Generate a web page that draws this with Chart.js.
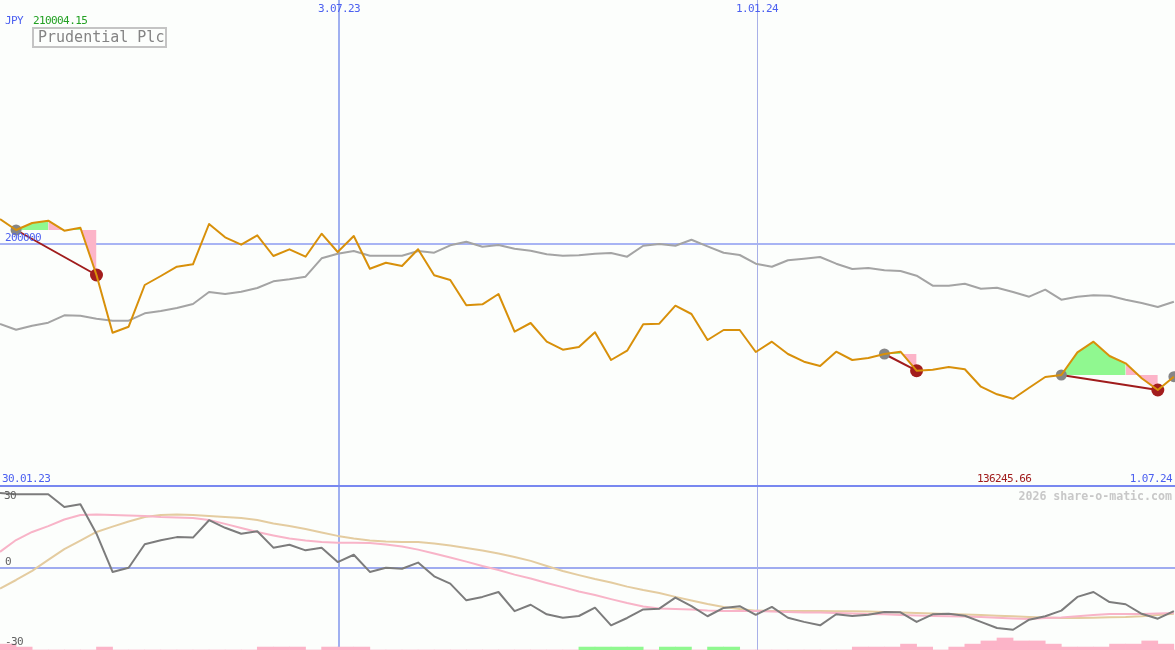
<!DOCTYPE html>
<html>
<head>
<meta charset="utf-8">
<script src="https://cdn.jsdelivr.net/npm/chart.js@4.4.0/dist/chart.umd.min.js"></script>
<style>
  body { margin: 0; background: #fcfefc; }
  #wrap { position: relative; width: 1175px; height: 650px; overflow: hidden; background: #fcfefc;
          font-family: "DejaVu Sans Mono", monospace; font-size: 11px; letter-spacing: -0.6px; }
  canvas { position: absolute; left: 0; }
  #top { top: 0; }
  #bot { top: 487px; }
  .t { position: absolute; white-space: pre; line-height: 11px; }
  .blue { color: #4c60f0; }
  #legend { position: absolute; left: 32px; top: 27px; width: 131px; height: 17px; border: 2px solid #c4c4c4;
            color: #848484; font-size: 15px; line-height: 17px; letter-spacing: 0; text-indent: 4px; }
  #brand { color: #c8c8c8; font-size: 11.6px; font-weight: bold; letter-spacing: 0; }
  .osc { color: #606060; }
</style>
</head>
<body>
<div id="wrap">
  <canvas id="top" width="1175" height="487"></canvas>
  <canvas id="bot" width="1175" height="163"></canvas>

  <div class="t blue" style="left:5px;top:15px">JPY</div>
  <div class="t" id="maxLabel" style="left:33px;top:15px;color:#22a022"></div>
  <div id="legend">Prudential Plc</div>
  <div class="t blue" id="refLabel" style="left:5px;top:232px"></div>
  <div class="t blue" id="startLabel" style="left:2px;top:473px"></div>
  <div class="t" id="minLabel" style="left:977px;top:473px;color:#a01c1c"></div>
  <div class="t blue" id="endLabel" style="right:3px;top:473px"></div>
  <div class="t" id="brand" style="right:3px;top:491px">2026 share-o-matic.com</div>
  <div class="t osc" style="left:4px;top:490px">30</div>
  <div class="t osc" style="left:5px;top:556px">0</div>
  <div class="t osc" style="left:5px;top:636px">-30</div>
</div>

<script>
// Wochenkurse in JPY (Prudential Plc) und Vergleichslinie
const price = [210004.15, 205544, 208419, 209363, 205256, 206489, 187064, 163367, 165831, 182957,
  186653, 190472, 191458, 208008, 202546, 199507, 203367, 194866, 197618, 194579,
  204025, 196509, 203080, 189651, 192115, 190760, 197618, 186940, 185010, 174620,
  175031, 179261, 163778, 167351, 159671, 156386, 157495, 163532, 152156, 155975,
  166817, 167064, 174456, 171047, 160369, 164476, 164476, 155441, 159671, 154620,
  151458, 149692, 155564, 152156, 152977, 154620, 155564, 147762, 148172, 149281,
  148337, 141191, 138070, 136245.66, 140780, 145174, 145996, 155318, 159671, 153799,
  150801, 144641, 139836, 145297];

const compare = [166940, 164600, 166242, 167474, 170513, 170349, 169117, 168295, 168295, 171335,
  172279, 173511, 175154, 180082, 179261, 180205, 181725, 184476, 185298, 186365,
  193922, 195811, 196920, 194990, 194990, 194990, 196920, 196222, 199261, 200739,
  198686, 199384, 197864, 197043, 195565, 194990, 195154, 195811, 196098, 194579,
  199096, 199795, 199096, 201560, 198850, 196222, 195277, 191704, 190472, 193101,
  193758, 194456, 191704, 189528, 189938, 188994, 188706, 186776, 182669, 182669,
  183491, 181437, 181848, 180082, 178152, 181027, 176920, 178152, 178727, 178563,
  176920, 175565, 173922, 176099];

// Oszillator unten
const osc = [30.4, 29.9, 29.9, 29.9, 24.7, 25.8, 13.8, -1.8, -0.1, 9.5,
  11.1, 12.4, 12.2, 19.3, 16.2, 13.8, 14.8, 8.1, 9.3, 7.0,
  8.1, 2.2, 5.2, -1.8, -0.1, -0.5, 2.0, -3.6, -6.6, -13.4,
  -12.0, -10.0, -17.8, -15.2, -19.1, -20.5, -19.8, -16.4, -23.6, -20.6,
  -17.1, -16.8, -12.3, -15.8, -19.9, -16.5, -15.8, -19.3, -16.1, -20.5,
  -22.2, -23.6, -19.1, -19.8, -19.3, -18.2, -18.3, -22.2, -19.1, -18.9,
  -19.7, -22.2, -24.7, -25.4, -21.3, -19.9, -17.6, -12.0, -10.0, -14.1,
  -15.0, -18.9, -20.9, -17.8];

const oscAvg = [6.4, 11.2, 14.5, 16.9, 19.6, 21.4, 21.6, 21.4, 21.2, 21.0,
  20.6, 20.4, 20.2, 19.4, 17.8, 16.1, 14.5, 13.1, 11.8, 11.0,
  10.4, 10.1, 10.1, 10.0, 9.4, 8.6, 7.3, 5.7, 4.1, 2.4,
  0.6, -1.0, -2.9, -4.5, -6.3, -8.0, -9.8, -11.2, -12.9, -14.5,
  -15.9, -16.7, -16.9, -17.1, -17.6, -17.8, -17.8, -17.8, -18.0, -18.2,
  -18.4, -18.4, -18.6, -18.8, -19.0, -19.1, -19.4, -19.6, -19.8, -19.9,
  -20.0, -20.2, -20.5, -20.8, -21.0, -20.6, -20.4, -19.9, -19.4, -19.0,
  -19.0, -19.0, -18.8, -18.6];

const oscSlow = [-8.6, -5.1, -1.4, 3.1, 7.5, 11.0, 14.5, 16.7, 18.8, 20.6,
  21.4, 21.6, 21.4, 21.0, 20.6, 20.2, 19.4, 18.0, 16.9, 15.7,
  14.3, 12.9, 11.8, 11.0, 10.6, 10.4, 10.4, 9.8, 9.0, 8.0,
  6.9, 5.7, 4.3, 2.7, 0.6, -1.4, -3.1, -4.7, -6.1, -7.8,
  -9.2, -10.4, -12.0, -13.5, -14.9, -16.1, -16.9, -17.6, -17.8, -17.8,
  -17.8, -17.8, -17.9, -17.9, -18.0, -18.2, -18.4, -18.6, -18.8, -19.0,
  -19.2, -19.4, -19.7, -19.9, -20.2, -20.4, -20.6, -20.6, -20.5, -20.3,
  -20.2, -19.9, -19.4, -18.9];

// Balken unten: positiv = grün, negativ = rosa
const hist = [-2.4, -1.2, 0, 0, 0, 0, -1.2, 0, 0, 0,
  0, 0, 0, 0, 0, 0, -1.2, -1.2, -1.2, 0,
  -1.2, -1.2, -1.2, 0, 0, 0, 0, 0, 0, 0,
  0, 0, 0, 0, 0, 0, 1.2, 1.2, 1.2, 1.2,
  0, 1.2, 1.2, 0, 1.2, 1.2, 0, 0, 0, 0,
  0, 0, 0, -1.2, -1.2, -1.2, -2.4, -1.2, 0, -1.2,
  -2.4, -3.7, -4.9, -3.7, -3.7, -2.4, -1.2, -1.2, -1.2, -2.4,
  -2.4, -3.7, -2.4, 0];

// Datumsmarken
const startLabel = '30.01.23';
const endLabel = '1.07.24';
const dateLabels = ['3.07.23', '1.01.24'];
const datePos = [21.08, 47.08];
const refPrice = 200000;

// Kauf/Verkauf
const buyIdx = [1, 55, 66, 73];
const sellIdx = [6, 57, 72];
const fillFrom = [1, 3, 4, 5, 55, 56, 66, 70];
const fillTo = [3, 4, 5, 6, 56, 57, 70, 72];
const fillEntry = [1, 1, 1, 1, 55, 55, 66, 66];
const fillGain = [true, false, true, false, true, false, true, false];

const xMax = 73.07;
const oscMin = -33.673, oscMax = 32.857;

const pts = arr => arr.map((v, i) => ({x: i, y: v}));
const at = (arr, ks) => ks.map(k => ({x: k, y: arr[k]}));

const fillSets = fillFrom.map((a, j) => ({
    data: price.slice(a, fillTo[j] + 1).map((v, i) => ({x: a + i, y: v})),
    borderWidth: 0,
    borderColor: 'rgba(0,0,0,0)',
    pointRadius: 0,
    backgroundColor: fillGain[j] ? '#90f890' : '#fcb4c8',
    fill: {value: price[fillEntry[j]]},
    order: 5
}));

const tradeSets = sellIdx.map((s, j) => ({
    data: at(price, [buyIdx[j], s]),
    borderColor: '#a01c1c',
    borderWidth: 2,
    pointRadius: 0,
    order: 2
}));

const topGuides = {
    id: 'topGuides',
    beforeDatasetsDraw(chart) {
        const {ctx, chartArea: a, scales: {x, y}} = chart;
        ctx.save();
        ctx.fillStyle = '#a8b4f4';
        ctx.fillRect(0, Math.round(y.getPixelForValue(refPrice)) - 1, a.right, 2);
        ctx.fillStyle = '#a0b0f0';
        ctx.fillRect(Math.round(x.getPixelForValue(datePos[0])) - 1, 0, 2, a.bottom);
        ctx.fillStyle = '#a8b0e8';
        ctx.fillRect(Math.round(x.getPixelForValue(datePos[1])), 0, 1, a.bottom);
        ctx.fillStyle = '#7888f0';
        ctx.fillRect(0, a.bottom - 2, a.right, 2);
        ctx.restore();
    }
};

const botGuides = {
    id: 'botGuides',
    beforeDatasetsDraw(chart) {
        const {ctx, chartArea: a, scales: {x, y}} = chart;
        ctx.save();
        ctx.fillStyle = '#a0acf0';
        ctx.fillRect(0, Math.round(y.getPixelForValue(0)) - 1, a.right, 2);
        ctx.fillStyle = '#a0b0f0';
        ctx.fillRect(Math.round(x.getPixelForValue(datePos[0])) - 1, 0, 2, a.bottom);
        ctx.fillStyle = '#a8b0e8';
        ctx.fillRect(Math.round(x.getPixelForValue(datePos[1])), 0, 1, a.bottom);
        ctx.restore();
    }
};

const commonOptions = {
    responsive: false,
    animation: false,
    events: [],
    layout: { padding: 0, autoPadding: false },
    plugins: { legend: { display: false }, tooltip: { enabled: false } },
    elements: { line: { tension: 0, borderJoinStyle: 'round' } }
};

const topChart = new Chart(document.getElementById('top'), {
    type: 'line',
    data: {
        datasets: [
            ...fillSets,
            {
                data: pts(compare),
                borderColor: '#a4a4a4',
                borderWidth: 2,
                pointRadius: 0,
                order: 3
            },
            ...tradeSets,
            {
                data: at(price, buyIdx),
                showLine: false,
                pointRadius: 5.5,
                pointBorderWidth: 0,
                pointBackgroundColor: '#868686',
                order: 1
            },
            {
                data: at(price, sellIdx),
                showLine: false,
                pointRadius: 6.5,
                pointBorderWidth: 0,
                pointBackgroundColor: '#a31d1d',
                order: 1
            },
            {
                data: pts(price),
                borderColor: '#d8900a',
                borderWidth: 2,
                pointRadius: 0,
                order: 0
            }
        ]
    },
    options: {
        ...commonOptions,
        scales: {
            x: { type: 'linear', min: 0, max: xMax, display: false },
            y: { min: 100000, max: 300000, display: false }
        }
    },
    plugins: [topGuides]
});

const botChart = new Chart(document.getElementById('bot'), {
    type: 'line',
    data: {
        datasets: [
            {
                type: 'bar',
                data: hist.map((v, i) => ({x: i + 0.5, y: [oscMin, oscMin + Math.abs(v)]})),
                backgroundColor: ctx => hist[ctx.dataIndex] > 0 ? '#90f890' : '#fcb4c8',
                borderWidth: 0,
                barPercentage: 1,
                categoryPercentage: 1,
                order: 3
            },
            {
                data: pts(oscSlow),
                borderColor: '#e4cca0',
                borderWidth: 2,
                pointRadius: 0,
                order: 2
            },
            {
                data: pts(oscAvg),
                borderColor: '#f8b4c8',
                borderWidth: 2,
                pointRadius: 0,
                order: 1
            },
            {
                data: pts(osc),
                borderColor: '#7c7c7c',
                borderWidth: 2,
                pointRadius: 0,
                order: 0
            }
        ]
    },
    options: {
        ...commonOptions,
        scales: {
            x: { type: 'linear', min: 0, max: xMax, display: false, offset: false },
            y: { min: oscMin, max: oscMax, display: false }
        }
    },
    plugins: [botGuides]
});

// Beschriftungen
document.getElementById('maxLabel').textContent = Math.max(...price).toFixed(2);
document.getElementById('minLabel').textContent = Math.min(...price).toFixed(2);
document.getElementById('refLabel').textContent = String(refPrice);
document.getElementById('startLabel').textContent = startLabel;
document.getElementById('endLabel').textContent = endLabel;

const wrap = document.getElementById('wrap');
dateLabels.forEach((txt, i) => {
    const el = document.createElement('div');
    el.className = 't blue';
    el.textContent = txt;
    el.style.top = '3px';
    el.style.left = topChart.scales.x.getPixelForValue(datePos[i]) + 'px';
    el.style.transform = 'translateX(-50%)';
    wrap.appendChild(el);
});
</script>
</body>
</html>
